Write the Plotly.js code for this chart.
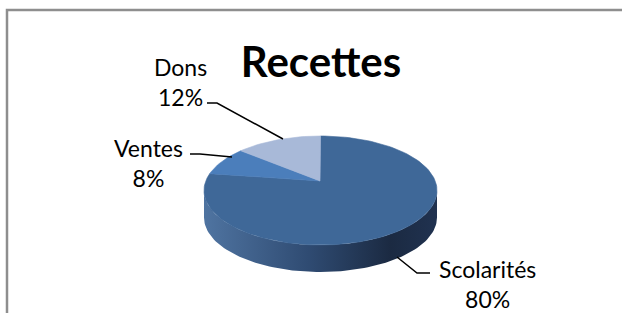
<!DOCTYPE html>
<html>
<head>
<meta charset="utf-8">
<script src="https://cdn.plot.ly/plotly-3.0.1.min.js"></script>
<style>html,body{margin:0;padding:0;background:#fff;}#chart{width:622px;height:313px;}</style>
</head>
<body>
<div id="chart"></div>
<script>
// ---- data ----
const labels = ['Scolarités', 'Ventes', 'Dons'];
const values = [80, 8, 12];
const chartTitle = 'Recettes';

// ---- style ----
const sliceColors = ['#3F6898', '#4B7EBB', '#A8B9D8'];
const FONT = 'Lato, "Open Sans", sans-serif';

// pie geometry (pixel space, y down)
const cx = 320.5, cy = 190.5, a = 116.5, b = 54.5, depth = 27;
const apex = [320, 181];
const deg = Math.PI / 180;
function pt(theta, dy) { return [cx + a * Math.sin(theta * deg), cy - b * Math.cos(theta * deg) + (dy || 0)]; }

const total = values.reduce((s, v) => s + v, 0);
const traces = [];

// side wall (front, theta 90 -> 270)
{
  const xs = [], ys = [];
  for (let t = 90; t <= 270; t += 2) { const p = pt(t); xs.push(p[0]); ys.push(p[1]); }
  for (let t = 270; t >= 90; t -= 2) { const p = pt(t, depth); xs.push(p[0]); ys.push(p[1]); }
  traces.push({
    type: 'scatter', mode: 'lines', x: xs, y: ys, fill: 'toself',
    line: { width: 0, color: 'rgba(0,0,0,0)' },
    fillgradient: { type: 'horizontal', colorscale: [[0, '#4F74A1'], [0.45, '#2F4B72'], [0.8, '#1B2A42'], [1, '#203250']] },
    hoverinfo: 'skip', showlegend: false
  });
}

// top slices
let start = 0;
values.forEach((v, i) => {
  const sweep = v / total * 360;
  const xs = [apex[0]], ys = [apex[1]];
  const n = Math.max(4, Math.ceil(sweep / 2));
  for (let k = 0; k <= n; k++) { const p = pt(start + sweep * k / n); xs.push(p[0]); ys.push(p[1]); }
  xs.push(apex[0]); ys.push(apex[1]);
  traces.push({
    type: 'scatter', mode: 'lines', x: xs, y: ys, fill: 'toself', fillcolor: sliceColors[i],
    line: { width: 0.6, color: sliceColors[i] }, hoverinfo: 'skip', showlegend: false, name: labels[i]
  });
  start += sweep;
});

// labels
const labelPos = { 'Scolarités': [487, 284], 'Ventes': [148, 163], 'Dons': [180, 82] };
const annotations = labels.map((l, i) => ({
  x: labelPos[l][0], y: labelPos[l][1], xref: 'x', yref: 'y', showarrow: false,
  text: l + '<br>' + Math.round(values[i] / total * 100) + '%',
  font: { family: FONT, size: 23, color: '#000' }, align: 'center', xanchor: 'center', yanchor: 'middle'
}));

const shapes = [
  // frame
  { type: 'path', xref: 'x', yref: 'y', path: 'M7,320 L7,10 L630,10', line: { color: '#8E8E8E', width: 2.5 } },
  // leader lines
  { type: 'path', xref: 'x', yref: 'y', path: 'M207,103 L217,103 L283,139', line: { color: '#000', width: 1.5 } },
  { type: 'path', xref: 'x', yref: 'y', path: 'M190,154 L200,154 L232,157', line: { color: '#000', width: 1.5 } },
  { type: 'path', xref: 'x', yref: 'y', path: 'M397,257 L417,273 L430,273', line: { color: '#000', width: 1.5 } }
];

const layout = {
  width: 622, height: 313,
  margin: { l: 0, r: 0, t: 0, b: 0 },
  paper_bgcolor: '#fff', plot_bgcolor: '#fff',
  xaxis: { range: [0, 622], visible: false, fixedrange: true },
  yaxis: { range: [313, 0], visible: false, fixedrange: true },
  title: { text: chartTitle, font: { family: FONT, size: 42, color: '#000', weight: 'bold' },
           x: 321 / 622, xanchor: 'center', y: 1 - 62 / 313, yanchor: 'middle' },
  annotations: annotations,
  shapes: shapes,
  showlegend: false
};

Plotly.newPlot('chart', traces, layout, { staticPlot: true });
</script>
</body>
</html>
